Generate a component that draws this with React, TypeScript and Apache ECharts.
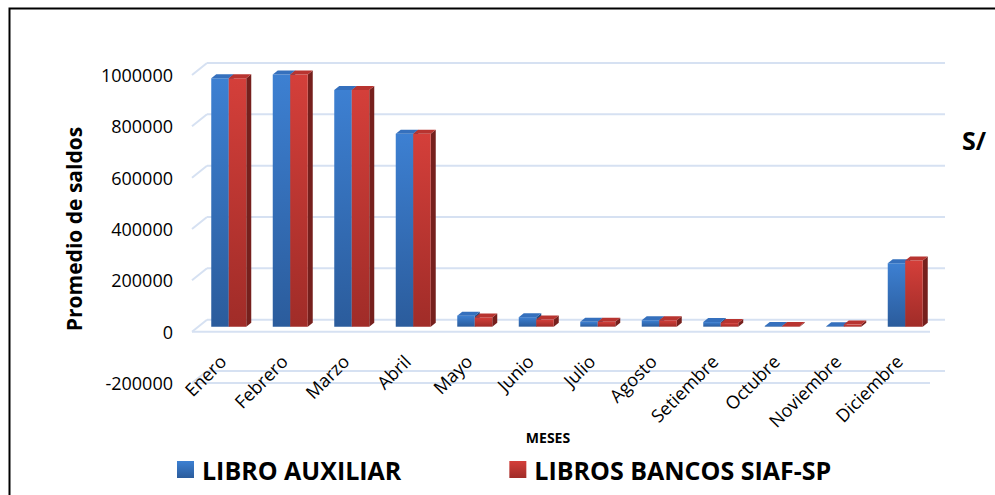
import React, { useEffect, useRef } from "react";
import * as echarts from "echarts";

const months = ["Enero", "Febrero", "Marzo", "Abril", "Mayo", "Junio", "Julio", "Agosto", "Setiembre", "Octubre", "Noviembre", "Diciembre"];
const libroAuxiliar = [968000, 982000, 922000, 752000, 43000, 37000, 19000, 25000, 18000, 3000, 2000, 247000];
const librosBancos = [968000, 982000, 922000, 752000, 36000, 28000, 19000, 25000, 14000, 3000, 8000, 258000];
const yTicks = [-200000, 0, 200000, 400000, 600000, 800000, 1000000];
const seriesNames = ["LIBRO AUXILIAR", "LIBROS BANCOS SIAF-SP"];

const WALL_DX = 15;
const WALL_DY = 12;
const BAR_SHIFT_X = 6;
const BAR_SHIFT_Y = 5;
const BAR_W = 17.5;
const DEPTH_X = 5;
const DEPTH_Y = 4;

const lg = (c1: string, c2: string) =>
  new echarts.graphic.LinearGradient(0, 0, 0, 1, [
    { offset: 0, color: c1 },
    { offset: 1, color: c2 },
  ]);

const palette = [
  { front: ["#3d80d2", "#2b5c9c"], side: "#234c82", top: "#3570bd", legend: ["#3d80d2", "#2b5c9c"] },
  { front: ["#d43f3a", "#a02c28"], side: "#76201d", top: "#b83430", legend: ["#d43f3a", "#a02c28"] },
];

function barRender(idx: number) {
  const p = palette[idx];
  return (params: any, api: any) => {
    const ci = api.value(0);
    const v = api.value(1);
    const top = api.coord([ci, v]);
    const base = api.coord([ci, 0]);
    const cx = top[0] + BAR_SHIFT_X;
    const x0 = idx === 0 ? cx - BAR_W : cx;
    const x1 = x0 + BAR_W;
    const yt = top[1] - BAR_SHIFT_Y;
    const yb = base[1] - BAR_SHIFT_Y;
    const h = Math.max(yb - yt, 0.5);
    return {
      type: "group",
      children: [
        {
          type: "polygon",
          shape: { points: [[x1, yt], [x1 + DEPTH_X, yt - DEPTH_Y], [x1 + DEPTH_X, yb - DEPTH_Y], [x1, yb]] },
          style: { fill: p.side },
        },
        {
          type: "rect",
          shape: { x: x0, y: yt, width: BAR_W, height: h },
          style: { fill: lg(p.front[0], p.front[1]) },
        },
        {
          type: "polygon",
          shape: { points: [[x0, yt], [x0 + DEPTH_X, yt - DEPTH_Y], [x1 + DEPTH_X, yt - DEPTH_Y], [x1, yt]] },
          style: { fill: p.top },
        },
      ],
    };
  };
}

function gridRender(params: any, api: any) {
  const cs = params.coordSys;
  const v = api.value(1);
  const y = api.coord([0, v])[1];
  const left = cs.x;
  const right = cs.x + cs.width;
  const style = { stroke: "#d6e1f2", lineWidth: 2 };
  const children: any[] = [
    { type: "line", shape: { x1: left + WALL_DX, y1: y - WALL_DY, x2: right + WALL_DX, y2: y - WALL_DY }, style },
    { type: "line", shape: { x1: left, y1: y, x2: left + WALL_DX, y2: y - WALL_DY }, style },
  ];
  if (v === 0 || v === yTicks[0]) {
    children.push({ type: "line", shape: { x1: left, y1: y, x2: right, y2: y }, style });
  }
  return { type: "group", children };
}

export default function App() {
  const ref = useRef<HTMLDivElement>(null);
  useEffect(() => {
    if (!ref.current) return;
    const chart = echarts.init(ref.current, null, { renderer: "svg" });
    const font = "'Open Sans', 'Liberation Sans', sans-serif";
    chart.setOption({
      animation: false,
      backgroundColor: "#ffffff",
      textStyle: { fontFamily: font },
      grid: { left: 192, right: 65, top: 75, bottom: 112, containLabel: false, outerBoundsMode: "none" },
      legend: {
        data: seriesNames.map((n, i) => ({ name: n, itemStyle: { color: lg(palette[i].legend[0], palette[i].legend[1]) } })),
        left: 172,
        top: 452,
        itemWidth: 17,
        itemHeight: 17,
        itemGap: 108,
        icon: "rect",
        textStyle: { fontFamily: font, fontWeight: "bold", fontSize: 25, color: "#000", padding: [0, 0, 0, 3] },
      },
      xAxis: {
        type: "category",
        data: months,
        position: "bottom",
        offset: -51,
        z: 10,
        axisLine: { show: false, onZero: false },
        axisTick: { show: false },
        axisLabel: { rotate: 45, fontSize: 18, color: "#000", margin: 26, interval: 0, fontFamily: font },
        name: "MESES",
        nameLocation: "middle",
        nameGap: 98,
        nameMoveOverlap: false,
        nameTextStyle: { fontWeight: "bold", fontSize: 14, color: "#000", fontFamily: font, padding: [0, 26, 0, 0] },
      },
      yAxis: {
        type: "value",
        min: -200000,
        max: 1000000,
        interval: 200000,
        z: 10,
        axisLine: { show: false },
        axisTick: { show: false },
        splitLine: { show: false },
        axisLabel: { fontSize: 18, color: "#000", margin: 19, fontFamily: font, formatter: (v: number) => String(v) },
        name: "Promedio de saldos",
        nameLocation: "middle",
        nameGap: 108,
        nameRotate: 90,
        nameMoveOverlap: false,
        nameTextStyle: { fontWeight: "bold", fontSize: 21, color: "#000", fontFamily: font },
      },
      graphic: [
        {
          type: "rect",
          left: 7,
          top: 6,
          shape: { x: 0, y: 0, width: 1000, height: 500 },
          style: { fill: "none", stroke: "#000", lineWidth: 2 },
          silent: true,
        },
        {
          type: "text",
          left: 962,
          top: 127,
          style: { text: "S/", font: `bold 25px ${font}`, fill: "#000" },
        },
      ],
      series: [
        {
          type: "custom",
          name: "grid",
          z: 1,
          silent: true,
          data: yTicks.map((t) => [0, t]),
          encode: { x: 0, y: 1 },
          renderItem: gridRender,
        },
        {
          type: "custom",
          name: seriesNames[0],
          z: 2,
          itemStyle: { color: lg(palette[0].legend[0], palette[0].legend[1]) },
          data: libroAuxiliar.map((v, i) => [i, v]),
          encode: { x: 0, y: 1 },
          renderItem: barRender(0),
        },
        {
          type: "custom",
          name: seriesNames[1],
          z: 3,
          itemStyle: { color: lg(palette[1].legend[0], palette[1].legend[1]) },
          data: librosBancos.map((v, i) => [i, v]),
          encode: { x: 0, y: 1 },
          renderItem: barRender(1),
        },
      ],
    });
    return () => chart.dispose();
  }, []);
  return <div ref={ref} style={{ position: "absolute", left: 0, top: 0, width: 995, height: 495 }} />;
}
